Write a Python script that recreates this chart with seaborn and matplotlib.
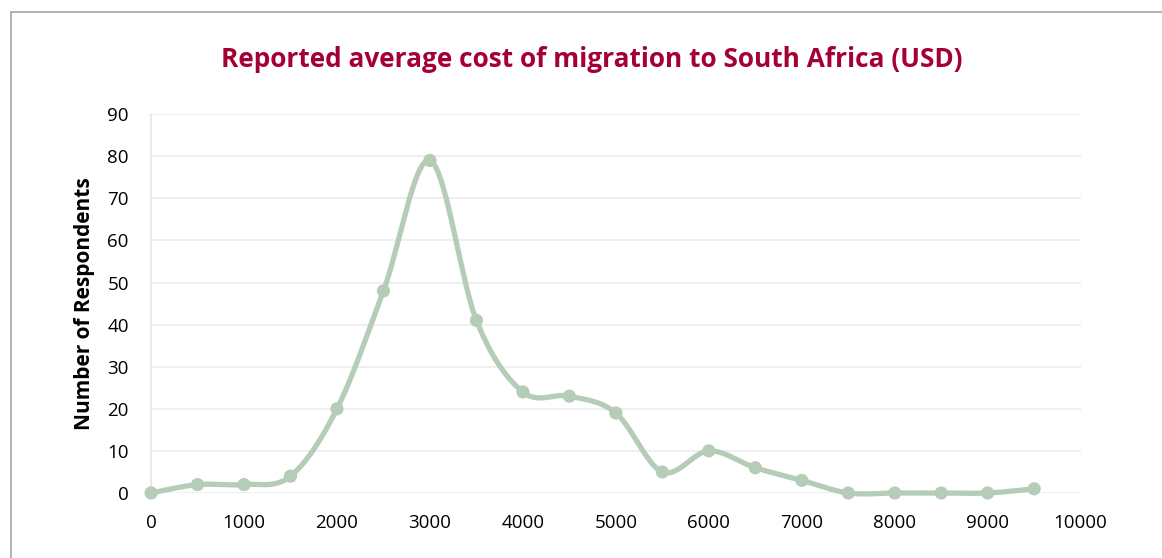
import numpy as np
import pandas as pd
import matplotlib
matplotlib.use("Agg")
import matplotlib.pyplot as plt
import seaborn as sns
from matplotlib.patches import Rectangle

# Data
cost_usd = [0, 500, 1000, 1500, 2000, 2500, 3000, 3500, 4000, 4500,
            5000, 5500, 6000, 6500, 7000, 7500, 8000, 8500, 9000, 9500]
respondents = [0, 2, 2, 4, 20, 48, 79, 41, 24, 23,
               19, 5, 10, 6, 3, 0, 0, 0, 0, 1]

title_text = "Reported average cost of migration to South Africa (USD)"
ylabel_text = "Number of Respondents"

line_color = "#b5ccb6"
title_color = "#a50034"

sns.set_theme(style="white")
plt.rcParams["font.family"] = ["Open Sans", "DejaVu Sans"]

df = pd.DataFrame({"cost": cost_usd, "n": respondents})


def smooth_curve(x, y, steps=30):
    # Excel-style smoothed line: cubic Bezier through points (Catmull-Rom tangents)
    x = np.asarray(x, float)
    y = np.asarray(y, float)
    px = np.concatenate([[x[0]], x, [x[-1]]])
    py = np.concatenate([[y[0]], y, [y[-1]]])
    xs, ys = [], []
    t = np.linspace(0, 1, steps)
    for i in range(1, len(px) - 2):
        p0 = np.array([px[i], py[i]])
        p3 = np.array([px[i + 1], py[i + 1]])
        c1 = p0 + (np.array([px[i + 1], py[i + 1]]) - np.array([px[i - 1], py[i - 1]])) / 6
        c2 = p3 - (np.array([px[i + 2], py[i + 2]]) - np.array([px[i], py[i]])) / 6
        b = ((1 - t) ** 3)[:, None] * p0 + (3 * (1 - t) ** 2 * t)[:, None] * c1 \
            + (3 * (1 - t) * t ** 2)[:, None] * c2 + (t ** 3)[:, None] * p3
        xs.append(b[:, 0])
        ys.append(b[:, 1])
    return np.concatenate(xs), np.concatenate(ys)


sx, sy = smooth_curve(df["cost"], df["n"])
curve = pd.DataFrame({"cost": sx, "n": sy})

fig = plt.figure(figsize=(11.62, 5.58), dpi=100)
ax = fig.add_axes([0.130, 0.1165, 0.800, 0.679])

sns.lineplot(data=curve, x="cost", y="n", ax=ax, color=line_color,
             linewidth=3.8, sort=False, estimator=None, zorder=3)
sns.scatterplot(data=df, x="cost", y="n", ax=ax, color=line_color,
                s=90, edgecolor="none", zorder=4)
for coll in ax.collections + ax.lines:
    coll.set_clip_on(False)

ax.set_xlim(0, 10000)
ax.set_ylim(0, 90)
ax.set_xticks(range(0, 10001, 1000))
ax.set_yticks(range(0, 91, 10))
ax.yaxis.grid(True, color="#ececec", linewidth=1.2)
ax.set_axisbelow(True)
for side in ["top", "right", "bottom"]:
    ax.spines[side].set_visible(False)
ax.spines["left"].set_color("#e6e6e6")
ax.spines["left"].set_linewidth(1.2)
ax.tick_params(axis="both", length=0, labelsize=13.5, colors="black")
ax.tick_params(axis="x", pad=15)
ax.tick_params(axis="y", pad=16)
ax.set_xlabel("")
ax.set_ylabel(ylabel_text, fontsize=15, fontweight="bold", color="black", labelpad=9)

fig.text(0.509, 0.893, title_text, ha="center", va="center",
         fontsize=18.9, fontweight="bold", color=title_color)

# chart frame
fig.patches.append(Rectangle((11 / 1162, -0.05), 1.2, (558 - 12) / 558 + 0.05,
                             transform=fig.transFigure, fill=False,
                             edgecolor="#a6a6a6", linewidth=1.2))

fig.savefig("out.png", dpi=100, facecolor="white")
